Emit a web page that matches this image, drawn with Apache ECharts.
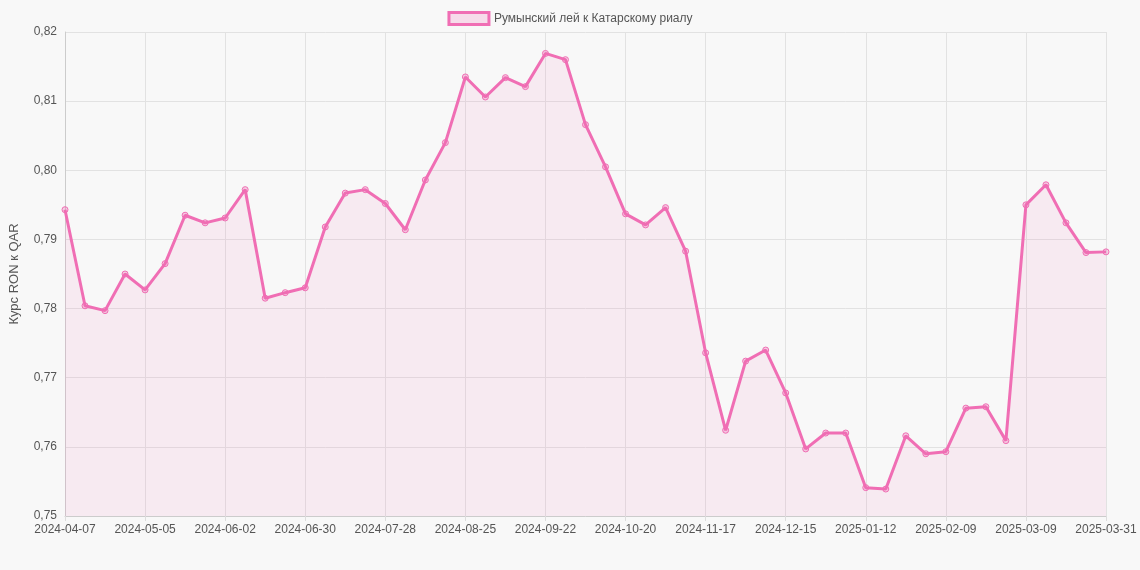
<!DOCTYPE html>
<html style="height: 100%">
<head>
    <meta charset="utf-8">
    <title>Румынский лей к Катарскому риалу</title>
</head>
<body style="height: 100%; margin: 0; background: #f8f8f8;">
<div id="container" style="width: 1140px; height: 570px"></div>
<script src="https://cdn.jsdelivr.net/npm/echarts@6/dist/echarts.min.js"></script>
<script type="text/javascript">
    // weekly dates, last point is 2025-03-31
    var dates = [];
    var d = new Date(Date.UTC(2024, 3, 7));
    for (var i = 0; i < 52; i++) {
        dates.push(d.toISOString().slice(0, 10));
        d.setUTCDate(d.getUTCDate() + 7);
    }
    dates.push('2025-03-31');

    var rates = [
        0.7943, 0.7804, 0.7797, 0.7850, 0.7827, 0.7865, 0.7935, 0.7924, 0.7931, 0.7972,
        0.7815, 0.7823, 0.7830, 0.7918, 0.7967, 0.7972, 0.7952, 0.7914, 0.7986, 0.8040,
        0.8135, 0.8106, 0.8134, 0.8121, 0.8169, 0.8160, 0.8066, 0.8005, 0.7937, 0.7921,
        0.7946, 0.7883, 0.7736, 0.7624, 0.7724, 0.7740, 0.7678, 0.7597, 0.7620, 0.7620,
        0.7541, 0.7539, 0.7616, 0.7590, 0.7593, 0.7656, 0.7658, 0.7609, 0.7950, 0.7979,
        0.7924, 0.7881, 0.7882
    ];

    var seriesName = 'Румынский лей к Катарскому риалу';

    var myChart = echarts.init(document.getElementById('container'));
    var option = {
        backgroundColor: '#f8f8f8',
        textStyle: { fontFamily: 'Arial, Liberation Sans, sans-serif' },
        legend: {
            top: 6,
            itemWidth: 40,
            itemHeight: 12,
            textStyle: { color: '#555', fontSize: 12 },
            data: [{
                name: seriesName,
                icon: 'rect',
                itemStyle: { color: 'rgba(240,110,180,0.2)', borderColor: '#f06eb4', borderWidth: 3 }
            }]
        },
        grid: { left: 62, right: 34, top: 32, bottom: 54 },
        xAxis: {
            type: 'category',
            boundaryGap: false,
            data: dates,
            axisLine: { lineStyle: { color: '#ccc' } },
            axisTick: { show: true, interval: 3, lineStyle: { color: '#ddd' } },
            axisLabel: {
                color: '#555', fontSize: 12,
                interval: function (idx) { return idx % 4 === 0 || idx === dates.length - 1; }
            },
            splitLine: { show: true, interval: 3, lineStyle: { color: '#e2e2e2' } }
        },
        yAxis: {
            type: 'value',
            min: 0.75, max: 0.82, interval: 0.01,
            name: 'Курс RON к QAR',
            nameLocation: 'middle',
            nameGap: 44,
            nameTextStyle: { color: '#555', fontSize: 13 },
            axisLine: { show: true, lineStyle: { color: '#ccc' } },
            axisLabel: {
                color: '#555', fontSize: 12,
                formatter: function (v) { return v.toFixed(2).replace('.', ','); }
            },
            splitLine: { lineStyle: { color: '#e2e2e2' } }
        },
        series: [{
            name: seriesName,
            type: 'line',
            data: rates,
            symbol: 'circle',
            symbolSize: 6,
            lineStyle: { color: '#f06eb4', width: 3 },
            itemStyle: { color: 'rgba(240,110,180,0.3)', borderColor: '#f06eb4', borderWidth: 1 },
            areaStyle: { color: 'rgba(240,110,180,0.14)' }
        }]
    };
    myChart.setOption(option);
</script>
</body>
</html>
